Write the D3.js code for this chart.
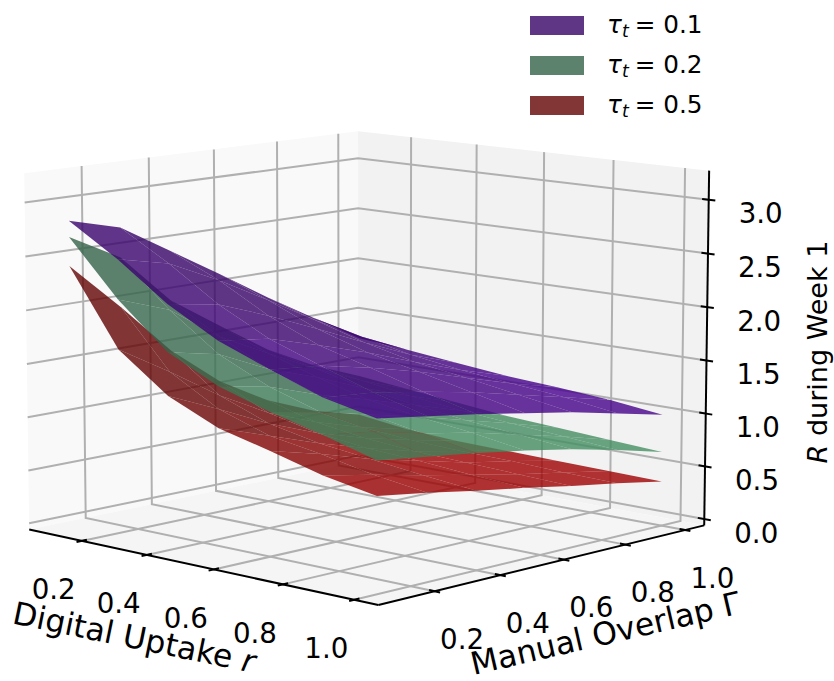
<!DOCTYPE html>
<html>
<head>
<meta charset="utf-8">
<script src="https://cdn.jsdelivr.net/npm/d3@7"></script>
<style>
  html, body { margin: 0; padding: 0; background: #fff; }
  text { font-family: "DejaVu Sans", sans-serif; fill: #000; }
</style>
</head>
<body>
<div id="chart"></div>
<script>
// grid of the surfaces
const rValues = [0.1, 0.25, 0.4, 0.55, 0.7, 0.85, 1.0];
const gammaValues = [0.1, 0.25, 0.4, 0.55, 0.7, 0.85, 1.0];

// R during week 1, rows follow rValues, columns follow gammaValues
const zTau01 = [
  [2.83, 2.70, 2.41, 2.12, 1.82, 1.54, 1.26],
  [2.54, 2.43, 2.20, 1.94, 1.67, 1.43, 1.22],
  [2.20, 2.12, 1.94, 1.74, 1.53, 1.33, 1.17],
  [1.94, 1.88, 1.74, 1.59, 1.42, 1.26, 1.12],
  [1.76, 1.71, 1.61, 1.49, 1.35, 1.21, 1.09],
  [1.59, 1.55, 1.47, 1.38, 1.27, 1.16, 1.05],
  [1.49, 1.42, 1.35, 1.27, 1.19, 1.09, 0.99]
];
const zTau02 = [
  [2.68, 2.42, 1.94, 1.62, 1.31, 1.07, 0.88],
  [2.17, 2.00, 1.67, 1.43, 1.20, 1.00, 0.83],
  [1.76, 1.66, 1.44, 1.28, 1.09, 0.93, 0.78],
  [1.53, 1.44, 1.28, 1.15, 1.01, 0.87, 0.73],
  [1.38, 1.29, 1.18, 1.07, 0.95, 0.83, 0.70],
  [1.26, 1.20, 1.09, 1.01, 0.90, 0.79, 0.67],
  [1.12, 1.06, 1.00, 0.93, 0.85, 0.75, 0.64]
];
const zTau05 = [
  [2.41, 1.95, 1.46, 1.08, 0.81, 0.62, 0.49],
  [1.71, 1.42, 1.11, 0.86, 0.68, 0.54, 0.43],
  [1.36, 1.15, 0.93, 0.75, 0.61, 0.50, 0.40],
  [1.15, 0.99, 0.83, 0.69, 0.57, 0.48, 0.39],
  [1.03, 0.91, 0.77, 0.66, 0.55, 0.47, 0.38],
  [0.90, 0.81, 0.71, 0.62, 0.53, 0.45, 0.37],
  [0.81, 0.74, 0.66, 0.59, 0.51, 0.44, 0.36]
];

const xTicks = [0.2, 0.4, 0.6, 0.8, 1.0];
const yTicks = [0.2, 0.4, 0.6, 0.8, 1.0];
const zTicks = [0, 0.5, 1, 1.5, 2, 2.5, 3];
const tauLabels = ["0.1", "0.2", "0.5"];

// dark / lit face colours of every surface
const surfaces = [
  {z: zTau05, dark: "rgb(99,4,4)", lit: "rgb(158,0,0)"},
  {z: zTau02, dark: "rgb(51,98,73)", lit: "rgb(68,144,98)"},
  {z: zTau01, dark: "rgb(55,3,102)", lit: "rgb(72,0,146)"}
];
const legendColors = [surfaces[2].dark, surfaces[1].dark, surfaces[0].dark];

const width = 834, height = 681;
const svg = d3.select("#chart").append("svg")
  .attr("width", width)
  .attr("height", height);

// camera, same idea as a mplot3d view
const elev = 9.8 * Math.PI / 180, azim = -46.7 * Math.PI / 180, dist = 10;
const k = 4208, cx = 367.5, cy = 351;
const boxXY = 0.5715, boxZ = 0.4287;

const xLim = [0.034, 1.066], yLim = [0.034, 1.066], zLim = [-0.06, 3.27];
const xScale = d3.scaleLinear().domain(xLim).range([-boxXY, boxXY]);
const yScale = d3.scaleLinear().domain(yLim).range([-boxXY, boxXY]);
const zScale = d3.scaleLinear().domain(zLim).range([-boxZ, boxZ]);

const se = Math.sin(elev), ce = Math.cos(elev), sa = Math.sin(azim), ca = Math.cos(azim);

function depth(p) {
  const u = xScale(p[0]), v = yScale(p[1]), w = zScale(p[2]);
  return dist - (ce * ca * u + ce * sa * v + se * w);
}

function project(p) {
  const u = xScale(p[0]), v = yScale(p[1]), w = zScale(p[2]);
  const d = depth(p);
  const sx = (-sa * u + ca * v) / d;
  const sy = (-se * ca * u - se * sa * v + ce * w) / d;
  return [cx + k * sx, cy - k * sy];
}

const line3d = d3.line().x(d => project(d)[0]).y(d => project(d)[1]);
const closed3d = pts => line3d(pts) + "Z";

//panes
const [x0, x1] = xLim, [y0, y1] = yLim, [z0, z1] = zLim;
svg.append("path").attr("fill", "#f9f9f9")
  .attr("d", closed3d([[x0, y0, z0], [x0, y1, z0], [x0, y1, z1], [x0, y0, z1]]));
svg.append("path").attr("fill", "#f2f2f2")
  .attr("d", closed3d([[x0, y1, z0], [x1, y1, z0], [x1, y1, z1], [x0, y1, z1]]));
svg.append("path").attr("fill", "#f5f5f5")
  .attr("d", closed3d([[x0, y0, z0], [x1, y0, z0], [x1, y1, z0], [x0, y1, z0]]));

//grid
const grid = svg.append("g").attr("fill", "none").attr("stroke", "#b0b0b0").attr("stroke-width", 2);
xTicks.forEach(t => grid.append("path").attr("d", line3d([[t, y0, z0], [t, y1, z0], [t, y1, z1]])));
yTicks.forEach(t => grid.append("path").attr("d", line3d([[x1, t, z0], [x0, t, z0], [x0, t, z1]])));
zTicks.forEach(t => grid.append("path").attr("d", line3d([[x0, y0, t], [x0, y1, t], [x1, y1, t]])));

//axis lines and ticks
const axes = svg.append("g").attr("fill", "none").attr("stroke", "#000").attr("stroke-width", 2);
axes.append("path").attr("d", line3d([[x0, y0, z0], [x1, y0, z0]]));
axes.append("path").attr("d", line3d([[x1, y0, z0], [x1, y1, z0]]));
axes.append("path").attr("d", line3d([[x1, y1, z0], [x1, y1, z1]]));
xTicks.forEach(t => axes.append("path").attr("d", line3d([[t, y0 - 0.015, z0], [t, y0 + 0.015, z0]])));
yTicks.forEach(t => axes.append("path").attr("d", line3d([[x1 + 0.015, t, z0], [x1 - 0.015, t, z0]])));
zTicks.forEach(t => axes.append("path").attr("d", line3d([[x1 - 0.018, y1, t], [x1 + 0.018, y1, t]])));

//tick labels
const tickFont = 27.7;
function tickLabel(pos, dx, dy, label) {
  svg.append("text")
    .attr("x", pos[0] + dx)
    .attr("y", pos[1] + dy)
    .attr("text-anchor", "middle")
    .attr("dominant-baseline", "central")
    .attr("font-size", tickFont)
    .text(label);
}
xTicks.forEach(t => tickLabel(project([t, y0, z0]), -28, 49, t.toFixed(1)));
yTicks.forEach(t => tickLabel(project([x1, t, z0]), 27.5, 48, t.toFixed(1)));
zTicks.forEach(t => tickLabel(project([x1, y1, t]), 52, 14, t.toFixed(1)));

//surfaces: light like mplot3d, polygons sorted back to front
const light = [-0.667, -0.667, 0.333];
function shadeOf(a, b, c) {
  const e1 = [b[0] - a[0], b[1] - a[1], b[2] - a[2]];
  const e2 = [c[0] - a[0], c[1] - a[1], c[2] - a[2]];
  let n = [e1[1] * e2[2] - e1[2] * e2[1], e1[2] * e2[0] - e1[0] * e2[2], e1[0] * e2[1] - e1[1] * e2[0]];
  const len = Math.hypot(n[0], n[1], n[2]);
  n = n.map(v => v / len);
  if (n[2] < 0) n = n.map(v => -v);
  return n[0] * light[0] + n[1] * light[1] + n[2] * light[2];
}
const shadeScale = d3.scaleLinear().domain([-0.7, -0.25]).range([0, 1]).clamp(true);

surfaces.forEach(s => {
  const quads = [];
  for (let i = 0; i < rValues.length - 1; i++) {
    for (let j = 0; j < gammaValues.length - 1; j++) {
      const a = [rValues[i], gammaValues[j], s.z[i][j]];
      const b = [rValues[i + 1], gammaValues[j], s.z[i + 1][j]];
      const c = [rValues[i + 1], gammaValues[j + 1], s.z[i + 1][j + 1]];
      const d = [rValues[i], gammaValues[j + 1], s.z[i][j + 1]];
      quads.push({pts: [a, b, c, d], shade: shadeOf(a, b, c), depth: d3.mean([a, b, c, d], depth)});
    }
  }
  quads.sort((p, q) => d3.descending(p.depth, q.depth));
  const color = d3.interpolateRgb(s.dark, s.lit);
  svg.append("g").selectAll("path")
    .data(quads)
    .enter()
    .append("path")
    .attr("d", d => closed3d(d.pts))
    .attr("fill", d => color(shadeScale(d.shade)))
    .attr("fill-opacity", 0.8);
});

//axis titles
svg.append("text")
  .attr("transform", "translate(132,648) rotate(11.6)")
  .attr("text-anchor", "middle")
  .attr("font-size", 31.5)
  .html('Digital Uptake <tspan font-style="italic">r</tspan>');
svg.append("text")
  .attr("transform", "translate(608,644) rotate(-13)")
  .attr("text-anchor", "middle")
  .attr("font-size", 31.5)
  .text("Manual Overlap Γ");
svg.append("text")
  .attr("transform", "translate(827,352) rotate(-90)")
  .attr("text-anchor", "middle")
  .attr("font-size", 27)
  .html('<tspan font-style="italic">R</tspan> during Week 1');

//legend
const legend = svg.append("g");
tauLabels.forEach((t, i) => {
  const ly = 33 + i * 40;
  legend.append("rect")
    .attr("x", 530).attr("y", ly - 17)
    .attr("width", 54).attr("height", 19)
    .attr("fill", legendColors[i]).attr("fill-opacity", 0.8);
  const txt = legend.append("text").attr("x", 607).attr("y", ly).attr("font-size", 24.7);
  txt.append("tspan").attr("font-style", "italic").text("τ");
  txt.append("tspan").attr("font-style", "italic").attr("font-size", 17.3).attr("dy", 4).text("t");
  txt.append("tspan").attr("dy", -4).attr("dx", 6).text("= " + t);
});
</script>
</body>
</html>
